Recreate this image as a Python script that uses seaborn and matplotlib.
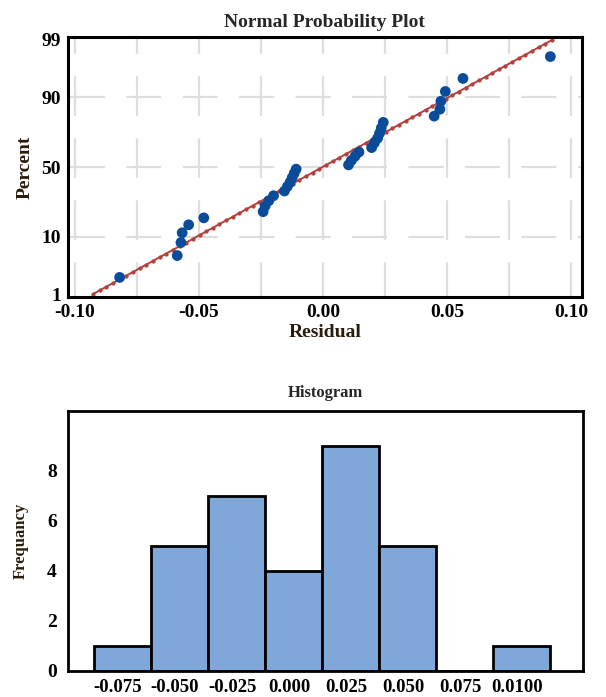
from statistics import NormalDist

import matplotlib.pyplot as plt
import numpy as np
import pandas as pd
import seaborn as sns

residuos = [
    -0.0820, -0.0588, -0.0573, -0.0568, -0.0542, -0.0481,
    -0.0242, -0.0234, -0.0219, -0.0200,
    -0.0156, -0.0144, -0.0133, -0.0125, -0.0117, -0.0109,
    0.0102, 0.0113, 0.0128, 0.0144,
    0.0195, 0.0206, 0.0219, 0.0227, 0.0234, 0.0242,
    0.0447, 0.0470, 0.0474, 0.0492,
    0.0563, 0.0915,
]
percent_ticks = [1, 10, 50, 90, 99]
residual_ticks = [-0.10, -0.05, 0.00, 0.05, 0.10]

# Histograma: bordas das classes (levemente deslocadas das marcas) e contagens
hist_edges = [-0.0855, -0.0605, -0.0355, -0.0105, 0.0145, 0.0395, 0.0645, 0.0895, 0.1145]
hist_counts = [1, 5, 7, 4, 9, 5, 0, 1]
hist_ticks = [-0.075, -0.050, -0.025, 0.000, 0.025, 0.050, 0.075, 0.100]
hist_labels = ["-0.075", "-0.050", "-0.025", "0.000", "0.025", "0.050", "0.075", "0.0100"]
freq_ticks = [0, 2, 4, 6, 8]

sns.set_theme(style="white")
plt.rcParams["font.family"] = ["Liberation Serif", "DejaVu Serif"]
plt.rcParams["font.weight"] = "bold"
plt.rcParams["axes.unicode_minus"] = False

label_cor = "#2a1c0c"
grid_cor = "#dedede"

fig = plt.figure(figsize=(6.06, 6.97), dpi=100)
ax1 = fig.add_axes([0.1122, 0.5739, 0.848, 0.373])
ax2 = fig.add_axes([0.1122, 0.0374, 0.850, 0.373])

# ---- grafico de probabilidade normal ----
nd = NormalDist()
n = len(residuos)
df = pd.DataFrame({"Residual": residuos})
# posicoes de plotagem (mediana dos postos)
df["z"] = [nd.inv_cdf((i + 1 - 0.3) / (n + 0.4)) for i in range(n)]

media = np.mean(residuos)
desvio = np.std(residuos, ddof=1)
z_linha = np.linspace(nd.inv_cdf(0.01), nd.inv_cdf(0.99), 70)
linha = pd.DataFrame({"Residual": media + desvio * z_linha, "z": z_linha})

# grade tracejada
for xv in np.arange(-0.10, 0.1001, 0.025):
    ax1.axvline(xv, color=grid_cor, lw=1.6, ls=(2.2, (17.8, 10.1)), zorder=0)
for p in [10, 50, 90]:
    ax1.axhline(nd.inv_cdf(p / 100), color=grid_cor, lw=1.6, ls=(24.6, (15.8, 9.6)), zorder=0)

sns.lineplot(data=linha, x="Residual", y="z", sort=False, color="#b3413d", lw=1.4,
             marker="o", ms=2.3, mec="#b3413d", ax=ax1, zorder=2)
sns.scatterplot(data=df, x="Residual", y="z", color="#0b4c9a", s=60, edgecolor="none",
                ax=ax1, zorder=3)

ax1.set_xlim(-0.1028, 0.1042)
ax1.set_ylim(-2.38, 2.38)
ax1.set_xticks(residual_ticks)
ax1.set_xticklabels([f"{v:.2f}" for v in residual_ticks])
ax1.set_yticks([nd.inv_cdf(p / 100) for p in percent_ticks])
ax1.set_yticklabels([str(p) for p in percent_ticks])
ax1.tick_params(axis="both", length=0, labelsize=14, pad=5, colors="black")
ax1.set_title("Normal Probability Plot", fontsize=14, fontweight="bold", pad=7)
ax1.set_xlabel("Residual", fontsize=14, fontweight="bold", color=label_cor, labelpad=2)
ax1.set_ylabel("Percent", fontsize=14, fontweight="bold", color=label_cor, labelpad=6)
for s in ax1.spines.values():
    s.set_color("black")
    s.set_linewidth(2.2)

# ---- histograma ----
hist_df = pd.DataFrame({
    "centro": [(a + b) / 2 for a, b in zip(hist_edges[:-1], hist_edges[1:])],
    "contagem": hist_counts,
})
sns.histplot(data=hist_df, x="centro", weights="contagem", bins=hist_edges, color="#7fa8d9",
             edgecolor="black", linewidth=2, alpha=1, ax=ax2)

ax2.set_xlim(-0.097, 0.129)
ax2.set_ylim(0, 10.4)
ax2.set_xticks(hist_ticks)
ax2.set_xticklabels(hist_labels)
ax2.set_yticks(freq_ticks)
ax2.tick_params(axis="both", length=3, width=1.5, direction="out", colors="black",
                labelsize=13.5, pad=3)
ax2.tick_params(axis="y", labelsize=14, pad=5)
ax2.set_title("Histogram", fontsize=12, fontweight="bold", pad=10)
ax2.set_xlabel("")
ax2.set_ylabel("Frequancy", fontsize=12, fontweight="bold", color=label_cor, labelpad=13)
for s in ax2.spines.values():
    s.set_color("black")
    s.set_linewidth(2)

fig.savefig("out.png", dpi=100)
